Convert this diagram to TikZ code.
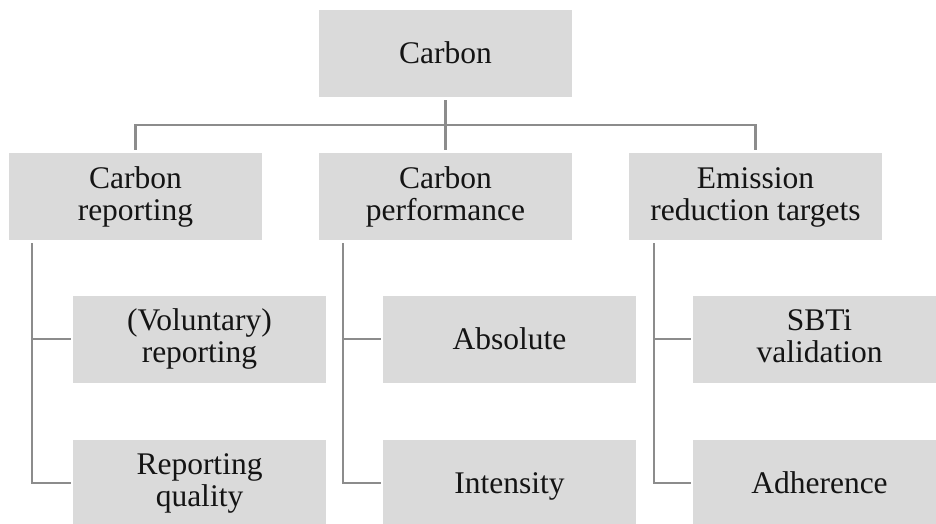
\documentclass[tikz,border=0pt]{standalone}
\usepackage{fontspec}
\setmainfont{Liberation Serif}
\usetikzlibrary{calc}
\definecolor{boxfill}{HTML}{DADADA}
\definecolor{linegray}{HTML}{8C8C8C}
\definecolor{txt}{HTML}{141414}
% one line of box text with a fixed height and depth
\newcommand{\boxline}[1]{\vphantom{(Tgy)}#1}
\begin{document}
\begin{tikzpicture}[x=1pt,y=-1pt,
  box/.style={rectangle,fill=boxfill,draw=none,inner sep=0pt,
    minimum width=253pt,minimum height=87pt,align=center,text=txt,
    font=\fontsize{31.5}{32}\selectfont},
  % single-line labels are centred on their capitals
  oneline/.style={box,text height=24pt,text depth=4pt},
  conn/.style={draw=linegray,line width=2.5pt}]
\useasboundingbox (0,0) rectangle (936,523);
\clip (0,0) rectangle (936,523);
\fill[white] (0,0) rectangle (936,523);

% top level
\node[oneline] (top) at (445.5,53.5) {Carbon};

% second level
\node[box] (rep)  at (135.5,196.5) {\boxline{Carbon}\\\boxline{reporting}};
\node[box] (perf) at (445.5,196.5) {\boxline{Carbon}\\\boxline{performance}};
\node[box] (emis) at (755.5,196.5) {\boxline{Emission}\\\boxline{reduction targets}};

% third level
\node[box] (vol)  at (199.5,339) {\boxline{(Voluntary)}\\\boxline{reporting}};
\node[box] (qual) at (199.5,483) {\boxline{Reporting}\\\boxline{quality}};
\node[oneline] (abs)  at (509.5,339) {Absolute};
\node[oneline] (int)  at (509.5,483) {Intensity};
\node[box] (sbti) at (819.5,339) {\boxline{SBTi}\\\boxline{validation}};
\node[oneline] (adh)  at (819.5,483) {Adherence};

% bus from the root to the second level
\coordinate (bus) at ($(top.south)!0.5!(perf.north)$);
\draw[conn] ([yshift=-3pt]top.south) -- ([yshift=3pt]perf.north);
\draw[conn] ([yshift=3pt]rep.north) |- (bus) -| ([yshift=3pt]emis.north);

% trunks down to the third level
\coordinate (t1) at ([xshift=23pt,yshift=-3pt]rep.south west);
\coordinate (t2) at ([xshift=24pt,yshift=-3pt]perf.south west);
\coordinate (t3) at ([xshift=25pt,yshift=-3pt]emis.south west);

\draw[conn] (t1) |- ([xshift=-2pt]qual.west);
\draw[conn] ([xshift=-2pt]vol.west) -- (vol.west -| t1);
\draw[conn] (t2) |- ([xshift=-2pt]int.west);
\draw[conn] ([xshift=-2pt]abs.west) -- (abs.west -| t2);
\draw[conn] (t3) |- ([xshift=-2pt]adh.west);
\draw[conn] ([xshift=-2pt]sbti.west) -- (sbti.west -| t3);
\end{tikzpicture}
\end{document}
